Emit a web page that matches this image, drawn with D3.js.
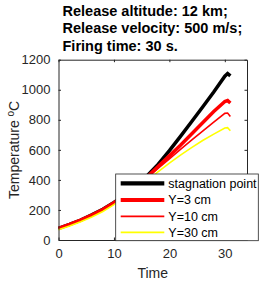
<!DOCTYPE html>
<html><head><meta charset="utf-8">
<script src="https://cdn.jsdelivr.net/npm/d3@7"></script>
<style>
body{margin:0;background:#fff;}
svg text{font-family:"Liberation Sans",Arial,Helvetica,sans-serif;}
</style></head>
<body>
<svg id="c" width="273" height="281"></svg>
<script>
const titleLines = ["Release altitude: 12 km;", "Release velocity: 500 m/s;", "Firing time: 30 s."];
const time = [0,2,4,6,8,10,12,14,16,18,20,22,24,26,28,30,30.5,31];
const stagnation = [78,104,133,167,205,250,300,360,428,505,595,690,787,885,985,1090,1108,1092];
const y3cm  = [78,104,133,166,203,248,297,354,420,490,560,630,705,780,855,922,928,912];
const y10cm = [77,103,132,165,202,246,295,350,415,478,540,603,665,725,785,843,845,822];
const y30cm = [68,93,121,153,190,235,283,337,395,455,512,565,615,662,705,745,748,727];
const seriesNames = ["stagnation point","Y=3 cm","Y=10 cm","Y=30 cm"];
const seriesColors = ["#000000","#ff0000","#ff0000","#ffff00"];
const seriesWidths = [3.5,3.5,1.6,1.6];
const legendWidths = [4.2,4,1.7,1.7];
const xTicks = [0,10,20,30];
const yTicks = [0,200,400,600,800,1000,1200];
const xLabel = "Time";

const svg = d3.select("#c");
const L=58.5, R=247, T=59.7, B=240;
const x = d3.scaleLinear().domain([0,34]).range([L,R]);
const y = d3.scaleLinear().domain([0,1200]).range([B,T]);
const axisColor = "#262626";

// title
svg.append("g").selectAll("text").data(titleLines).join("text")
  .attr("x",62.5).attr("y",(d,i)=>15.5+i*17.8)
  .attr("font-size","14.5px").attr("font-weight","bold").attr("fill","#000")
  .text(d=>d);

// plot background
svg.append("rect").attr("x",L).attr("y",T).attr("width",R-L).attr("height",B-T).attr("fill","#fff");

// lines
const series=[stagnation,y3cm,y10cm,y30cm];
const line = d3.line().x((d,i)=>x(time[i])).y(d=>y(d));
svg.append("g").selectAll("path").data(series).join("path")
  .attr("d",d=>line(d)).attr("fill","none")
  .attr("stroke",(d,i)=>seriesColors[i]).attr("stroke-width",(d,i)=>seriesWidths[i])
  .attr("stroke-linejoin","miter");

// axes
const tl = -2.5;
const fmt = d3.format("d");
const gx = svg.append("g").attr("transform",`translate(0,${B})`)
  .call(d3.axisBottom(x).tickValues(xTicks).tickFormat(fmt).tickSize(tl).tickPadding(9).tickSizeOuter(0));
const gxt = svg.append("g").attr("transform",`translate(0,${T})`)
  .call(d3.axisTop(x).tickValues(xTicks).tickSize(tl).tickFormat("").tickSizeOuter(0));
const gy = svg.append("g").attr("transform",`translate(${L},0)`)
  .call(d3.axisLeft(y).tickValues(yTicks).tickFormat(fmt).tickSize(tl).tickPadding(8).tickSizeOuter(0));
const gyr = svg.append("g").attr("transform",`translate(${R},0)`)
  .call(d3.axisRight(y).tickValues(yTicks).tickSize(tl).tickFormat("").tickSizeOuter(0));
[gx,gxt,gy,gyr].forEach(g=>{
  g.select(".domain").attr("stroke",axisColor).attr("stroke-width",1);
  g.selectAll(".tick line").attr("stroke",axisColor);
  g.selectAll("text").attr("fill",axisColor).attr("font-size","13px").attr("font-family",'"Liberation Sans",Arial,sans-serif');
});
gx.selectAll("text").attr("dy","0.71em");

// axis labels
svg.append("text").attr("x",(L+R)/2).attr("y",278).attr("text-anchor","middle")
  .attr("font-size","14px").attr("fill",axisColor).text(xLabel);
const yl = svg.append("text").attr("transform",`translate(18.5,${(T+B)/2}) rotate(-90)`)
  .attr("text-anchor","middle").attr("font-size","14px").attr("fill",axisColor);
yl.append("tspan").text("Temperature ");
yl.append("tspan").attr("font-size","10px").attr("dy","-5").text("o");
yl.append("tspan").attr("dy","5").text("C");

// legend
const lg = svg.append("g");
lg.append("rect").attr("x",115.7).attr("y",174).attr("width",258.3-115.7).attr("height",240.7-174)
  .attr("fill","#fff").attr("stroke",axisColor).attr("stroke-width",0.8);
const rows=[183.3,200,216.3,232.3];
seriesNames.forEach((n,i)=>{
  lg.append("line").attr("x1",120.7).attr("x2",164.3).attr("y1",rows[i]).attr("y2",rows[i])
    .attr("stroke",seriesColors[i]).attr("stroke-width",legendWidths[i]);
  lg.append("text").attr("x",168.3).attr("y",rows[i]).attr("dy","0.35em")
    .attr("font-size","12.5px").attr("fill","#000").text(n);
});
</script>
</body></html>
